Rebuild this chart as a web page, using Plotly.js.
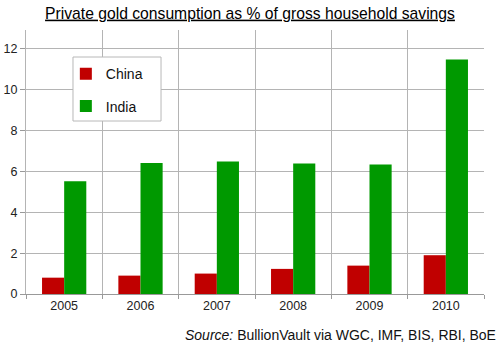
<!DOCTYPE html>
<html>
<head>
<meta charset="utf-8">
<script src="https://cdn.plot.ly/plotly-3.0.1.min.js"></script>
<style>html,body{margin:0;padding:0;background:#fff;}#chart{width:500px;height:346px;}</style>
</head>
<body>
<div id="chart"></div>
<script>
const years = ["2005", "2006", "2007", "2008", "2009", "2010"];
const china = [0.80, 0.90, 1.00, 1.23, 1.39, 1.90];
const india = [5.52, 6.42, 6.49, 6.39, 6.34, 11.49];
const yTicks = [0, 2, 4, 6, 8, 10, 12];

const font = "Liberation Sans, Arial, sans-serif";
const data = [
  {type: "bar", name: "China", x: years, y: china, marker: {color: "#c00000"}, legendgroup: "a"},
  {type: "bar", name: "India", x: years, y: india, marker: {color: "#009900"}, legendgroup: "b"}
];
const layout = {
  width: 500, height: 346,
  margin: {l: 26, r: 16, t: 30, b: 52},
  paper_bgcolor: "#fff", plot_bgcolor: "#fff",
  font: {family: font, size: 12, color: "#222"},
  title: {text: "<u>Private gold consumption as % of gross household savings</u>", x: 0.5, xanchor: "center", y: 0.962, yanchor: "middle", font: {family: font, size: 15.7, color: "#000"}},
  barmode: "group", bargap: 0.42, bargroupgap: 0,
  showlegend: true,
  legend: {x: 0.087, y: 0.893, xanchor: "left", yanchor: "top", bgcolor: "rgba(0,0,0,0)", borderwidth: 0, font: {family: font, size: 14, color: "#111"}, tracegroupgap: 11, itemwidth: 30},
  shapes: [{type: "rect", xref: "paper", yref: "paper", x0: 0.1026, x1: 0.2948, y0: 0.6553, y1: 0.8977, line: {color: "#b8b8b8", width: 1}, fillcolor: "#fff", layer: "above"}],
  xaxis: {type: "category", tickson: "boundaries", showgrid: true, gridcolor: "#b4b4b4", gridwidth: 1, ticks: "outside", ticklen: 4, tickcolor: "#999", showline: true, linecolor: "#999", mirror: false, tickfont: {size: 12.5, color: "#222"}, fixedrange: true},
  yaxis: {range: [0, 12.93], tickvals: yTicks, ticktext: yTicks.map(String), showgrid: true, gridcolor: "#b4b4b4", ticks: "outside", ticklen: 5, tickcolor: "#999", showline: true, linecolor: "#b4b4b4", zeroline: false, tickfont: {size: 12.5, color: "#222"}, fixedrange: true},
  annotations: [{text: "<i>Source:</i> BullionVault via WGC, IMF, BIS, RBI, BoE", xref: "paper", yref: "paper", x: 1.03, y: -0.155, xanchor: "right", yanchor: "middle", showarrow: false, font: {family: font, size: 14, color: "#111"}}]
};
Plotly.newPlot("chart", data, layout, {displayModeBar: false, staticPlot: true});
</script>
</body>
</html>
